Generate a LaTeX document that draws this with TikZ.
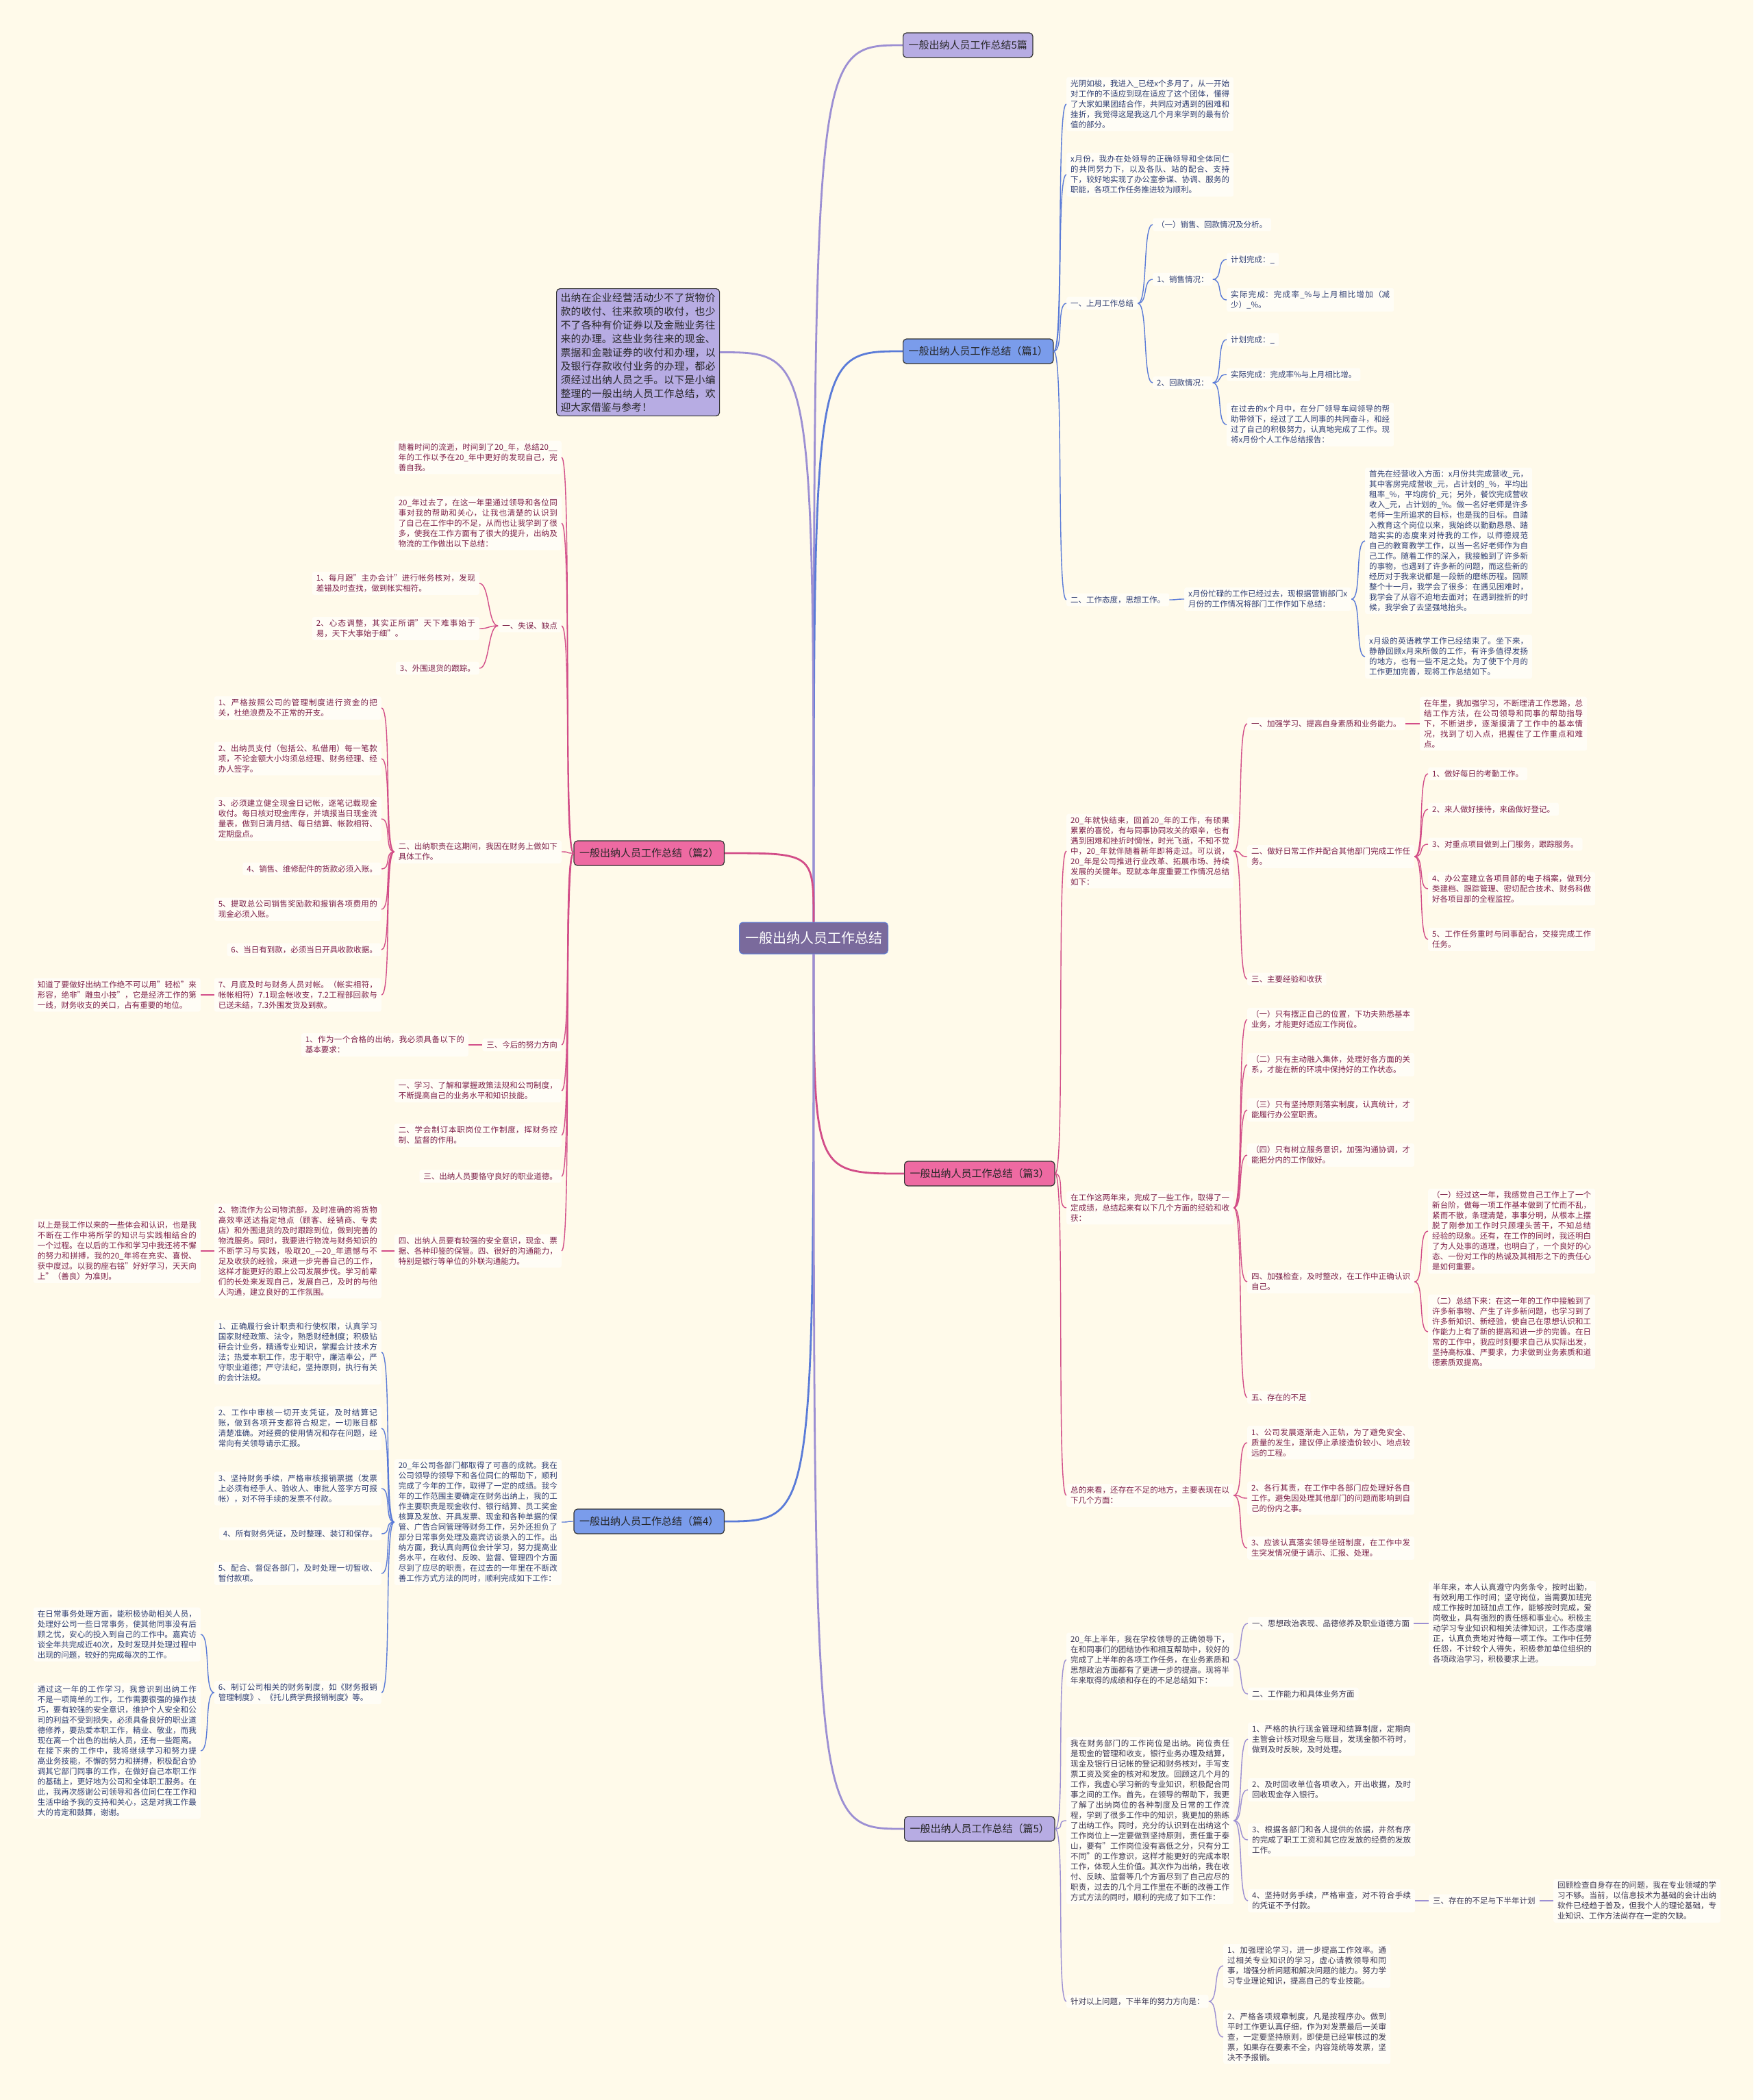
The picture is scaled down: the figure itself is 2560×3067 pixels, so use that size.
\documentclass[tikz,border=0pt]{standalone}
\usepackage{fontspec}
\setmainfont{Noto Sans CJK SC}
\XeTeXlinebreaklocale "zh"
\XeTeXlinebreakskip=0pt plus 1pt
\setlength{\parindent}{0pt}
\definecolor{bgc}{HTML}{FFFAEA}
\definecolor{lfc}{HTML}{FFFDF6}
\definecolor{lnb}{HTML}{5A7BD8}
\definecolor{lnp}{HTML}{D24D88}
\definecolor{lnv}{HTML}{9C8FD3}
\definecolor{txb}{HTML}{2F3E72}
\definecolor{txp}{HTML}{7D1F48}
\definecolor{txv}{HTML}{3A3550}
\definecolor{fb}{HTML}{7A9CEB}
\definecolor{fp}{HTML}{EE6AA2}
\definecolor{fv}{HTML}{B7ACE3}
\definecolor{fr}{HTML}{7A6A9C}
\tikzset{
  lf/.style  = {fill=lfc, rounded corners=3pt, inner xsep=6pt, inner ysep=4pt,
                align=left, font=\fontsize{11.5}{15}\selectfont},
  lfw/.style = {lf, text width=232pt, align=justify},
  tb/.style  = {text=txb}, tp/.style = {text=txp}, tv/.style = {text=txv},
  br/.style  = {draw=black!80, line width=1.2pt, rounded corners=5pt, inner xsep=8pt,
                minimum height=36pt, font=\fontsize{15}{18}\selectfont, text=black!85},
  brb/.style = {br, fill=fb}, brp/.style = {br, fill=fp}, brv/.style = {br, fill=fv},
  rt/.style  = {fill=fr, draw=lnb, line width=1pt, rounded corners=5pt, minimum width=217pt,
                minimum height=46pt, font=\fontsize{20}{24}\selectfont, text=white},
  am/.style  = {line width=2.8pt},
  ab/.style  = {draw=lnb, line width=1.4pt}, ap/.style = {draw=lnp, line width=1.4pt},
  av/.style  = {draw=lnv, line width=1.4pt},
  rc/.style  = {out=0, in=180, distance=15pt},
  lc/.style  = {out=180, in=0, distance=15pt},
}
\begin{document}
\begin{tikzpicture}[x=1pt,y=-1pt]
  \fill[bgc] (0,0) rectangle (2560,3067);
  \useasboundingbox (0,0) rectangle (2560,3067);
  % root and main branches
  \node[rt] (root) at (1188,1370) {一般出纳人员工作总结};
  \node[brv, anchor=west, minimum width=187pt] (ttl) at (1318,66) {一般出纳人员工作总结5篇};
  \node[brb, anchor=west, minimum width=218pt] (p1) at (1318,513) {一般出纳人员工作总结（篇1）};
  \node[brp, anchor=east, minimum width=216pt] (p2) at (1058,1246) {一般出纳人员工作总结（篇2）};
  \node[brp, anchor=west, minimum width=215pt] (p3) at (1320,1714) {一般出纳人员工作总结（篇3）};
  \node[brb, anchor=east, minimum width=216pt] (p4) at (1058,2222) {一般出纳人员工作总结（篇4）};
  \node[brv, anchor=west, minimum width=215pt] (p5) at (1320,2671) {一般出纳人员工作总结（篇5）};
  \node[draw=black!80, line width=1.2pt, fill=fv, rounded corners=5pt, anchor=north west,
        text width=226pt, inner sep=6pt, align=justify, text=black!85,
        font=\fontsize{14.8}{20}\selectfont] (intro) at (812,421)
    {出纳在企业经营活动少不了货物价款的收付、往来款项的收付，也少不了各种有价证券以及金融业务往来的办理。这些业务往来的现金、票据和金融证券的收付和办理，以及银行存款收付业务的办理，都必须经过出纳人员之手。以下是小编整理的一般出纳人员工作总结，欢迎大家借鉴与参考！};

  \draw[am, lnv] (root.north) .. controls (root.north |- ttl.west) .. (ttl.west);
  \draw[am, lnb] (root.north) .. controls (root.north |- p1.west) .. (p1.west);
  \draw[am, lnv] (intro.east) .. controls (root.north |- intro.east) .. (root.north);
  \draw[am, lnp] (p2.east) .. controls (root.north |- p2.east) .. (root.north);
  \draw[am, lnp] (root.south) .. controls (root.south |- p3.west) .. (p3.west);
  \draw[am, lnb] (p4.east) .. controls (root.south |- p4.east) .. (root.south);
  \draw[am, lnv] (root.south) .. controls (root.south |- p5.west) .. (p5.west);

  % part 1
  \node[lfw, tb, anchor=west] (p1a) at (1557,152) {光阴如梭，我进入\_已经x个多月了，从一开始对工作的不适应到现在适应了这个团体，懂得了大家如果团结合作，共同应对遇到的困难和挫折，我觉得这是我这几个月来学到的最有价值的部分。};
  \node[lfw, tb, anchor=west] (p1b) at (1557,255) {x月份，我办在处领导的正确领导和全体同仁的共同努力下，以及各队、站的配合、支持下，较好地实现了办公室参谋、协调、服务的职能，各项工作任务推进较为顺利。};
  \node[lf, tb, anchor=west] (p1c) at (1557,443) {一、上月工作总结};
  \node[lf, tb, anchor=west] (p1c1) at (1683,328) {（一）销售、回款情况及分析。};
  \node[lf, tb, anchor=west] (p1c2) at (1683,408) {1、销售情况：};
  \node[lf, tb, anchor=west] (p1c2a) at (1791,379) {计划完成：\_};
  \node[lfw, tb, anchor=west] (p1c2b) at (1791,438) {实际完成：完成率\_\%与上月相比增加（减少）\_\%。};
  \node[lf, tb, anchor=west] (p1c3) at (1683,559) {2、回款情况：};
  \node[lf, tb, anchor=west] (p1c3a) at (1791,496) {计划完成：\_};
  \node[lf, tb, anchor=west] (p1c3b) at (1791,547) {实际完成：完成率\%与上月相比增。};
  \node[lfw, tb, anchor=west] (p1c3c) at (1791,620) {在过去的x个月中，在分厂领导车间领导的帮助带领下，经过了工人同事的共同奋斗，和经过了自己的积极努力，认真地完成了工作。现将x月份个人工作总结报告：};
  \node[lf, tb, anchor=west] (p1d) at (1557,876) {二、工作态度，思想工作。};
  \node[lfw, tb, anchor=west] (p1d1) at (1729,875) {x月份忙碌的工作已经过去，现根据营销部门x月份的工作情况将部门工作作如下总结：};
  \node[lfw, tb, anchor=west] (p1d1a) at (1993,790) {首先在经营收入方面：x月份共完成营收\_元，其中客房完成营收\_元，占计划的\_\%，平均出租率\_\%，平均房价\_元；另外，餐饮完成营收收入\_元，占计划的\_\%。做一名好老师是许多老师一生所追求的目标，也是我的目标。自踏入教育这个岗位以来，我始终以勤勤恳恳、踏踏实实的态度来对待我的工作，以师德规范自己的教育教学工作，以当一名好老师作为自己工作。随着工作的深入，我接触到了许多新的事物，也遇到了许多新的问题，而这些新的经历对于我来说都是一段新的磨练历程。回顾整个十一月，我学会了很多：在遇见困难时，我学会了从容不迫地去面对；在遇到挫折的时候，我学会了去坚强地抬头。};
  \node[lfw, tb, anchor=west] (p1d1b) at (1993,959) {x月级的英语教学工作已经结束了。坐下来，静静回顾x月来所做的工作，有许多值得发扬的地方，也有一些不足之处。为了使下个月的工作更加完善，现将工作总结如下。};
  \foreach \c in {p1a,p1b,p1c,p1d} \draw[ab] (p1.east) to[rc] (\c.west);
  \foreach \c in {p1c1,p1c2,p1c3} \draw[ab] (p1c.east) to[rc] (\c.west);
  \foreach \c in {p1c2a,p1c2b} \draw[ab] (p1c2.east) to[rc] (\c.west);
  \foreach \c in {p1c3a,p1c3b,p1c3c} \draw[ab] (p1c3.east) to[rc] (\c.west);
  \draw[ab] (p1d.east) to[rc] (p1d1.west);
  \foreach \c in {p1d1a,p1d1b} \draw[ab] (p1d1.east) to[rc] (\c.west);

  % part 3
  \node[lfw, tp, anchor=west] (p3a) at (1557,1243) {20\_年就快结束，回首20\_年的工作，有硕果累累的喜悦，有与同事协同攻关的艰辛，也有遇到困难和挫折时惆怅，时光飞逝，不知不觉中，20\_年就伴随着新年即将走过。可以说，20\_年是公司推进行业改革、拓展市场、持续发展的关键年。现就本年度重要工作情况总结如下：};
  \node[lf, tp, anchor=west] (p3a1) at (1821,1057) {一、加强学习、提高自身素质和业务能力。};
  \node[lfw, tp, anchor=west] (p3a1a) at (2073,1057) {在年里，我加强学习，不断理清工作思路，总结工作方法，在公司领导和同事的帮助指导下，不断进步，逐渐摸清了工作中的基本情况，找到了切入点，把握住了工作重点和难点。};
  \node[lfw, tp, anchor=west] (p3a2) at (1821,1251) {二、做好日常工作并配合其他部门完成工作任务。};
  \node[lf, tp, anchor=west] (p3a2a) at (2085,1130) {1、做好每日的考勤工作。};
  \node[lf, tp, anchor=west] (p3a2b) at (2085,1182) {2、来人做好接待，来函做好登记。};
  \node[lf, tp, anchor=west] (p3a2c) at (2085,1233) {3、对重点项目做到上门服务，跟踪服务。};
  \node[lfw, tp, anchor=west] (p3a2d) at (2085,1298) {4、办公室建立各项目部的电子档案，做到分类建档、跟踪管理、密切配合技术、财务科做好各项目部的全程监控。};
  \node[lfw, tp, anchor=west] (p3a2e) at (2085,1372) {5、工作任务重时与同事配合，交接完成工作任务。};
  \node[lf, tp, anchor=west] (p3a3) at (1821,1430) {三、主要经验和收获};
  \node[lfw, tp, anchor=west] (p3b) at (1557,1764) {在工作这两年来，完成了一些工作，取得了一定成绩，总结起来有以下几个方面的经验和收获：};
  \node[lfw, tp, anchor=west] (p3b1) at (1821,1489) {（一）只有摆正自己的位置，下功夫熟悉基本业务，才能更好适应工作岗位。};
  \node[lfw, tp, anchor=west] (p3b2) at (1821,1555) {（二）只有主动融入集体，处理好各方面的关系，才能在新的环境中保持好的工作状态。};
  \node[lfw, tp, anchor=west] (p3b3) at (1821,1621) {（三）只有坚持原则落实制度，认真统计，才能履行办公室职责。};
  \node[lfw, tp, anchor=west] (p3b4) at (1821,1687) {（四）只有树立服务意识，加强沟通协调，才能把分内的工作做好。};
  \node[lfw, tp, anchor=west] (p3b5) at (1821,1872) {四、加强检查，及时整改，在工作中正确认识自己。};
  \node[lfw, tp, anchor=west] (p3b5a) at (2085,1798) {（一）经过这一年，我感觉自己工作上了一个新台阶，做每一项工作基本做到了忙而不乱，紧而不散，条理清楚，事事分明，从根本上摆脱了刚参加工作时只顾埋头苦干，不知总结经验的现象。还有，在工作的同时，我还明白了为人处事的道理，也明白了，一个良好的心态、一份对工作的热诚及其相形之下的责任心是如何重要。};
  \node[lfw, tp, anchor=west] (p3b5b) at (2085,1945) {（二）总结下来：在这一年的工作中接触到了许多新事物、产生了许多新问题，也学习到了许多新知识、新经验，使自己在思想认识和工作能力上有了新的提高和进一步的完善。在日常的工作中，我应时刻要求自己从实际出发，坚持高标准、严要求，力求做到业务素质和道德素质双提高。};
  \node[lf, tp, anchor=west] (p3b6) at (1821,2041) {五、存在的不足};
  \node[lfw, tp, anchor=west] (p3c) at (1557,2184) {总的来看，还存在不足的地方，主要表现在以下几个方面：};
  \node[lfw, tp, anchor=west] (p3c1) at (1821,2107) {1、公司发展逐渐走入正轨，为了避免安全、质量的发生，建议停止承接造价较小、地点较远的工程。};
  \node[lfw, tp, anchor=west] (p3c2) at (1821,2188) {2、各行其责，在工作中各部门应处理好各自工作。避免因处理其他部门的问题而影响到自己的份内之事。};
  \node[lfw, tp, anchor=west] (p3c3) at (1821,2261) {3、应该认真落实领导坐班制度，在工作中发生突发情况便于请示、汇报、处理。};
  \foreach \c in {p3a,p3b,p3c} \draw[ap] (p3.east) to[rc] (\c.west);
  \foreach \c in {p3a1,p3a2,p3a3} \draw[ap] (p3a.east) to[rc] (\c.west);
  \draw[ap] (p3a1.east) to[rc] (p3a1a.west);
  \foreach \c in {p3a2a,p3a2b,p3a2c,p3a2d,p3a2e} \draw[ap] (p3a2.east) to[rc] (\c.west);
  \foreach \c in {p3b1,p3b2,p3b3,p3b4,p3b5,p3b6} \draw[ap] (p3b.east) to[rc] (\c.west);
  \foreach \c in {p3b5a,p3b5b} \draw[ap] (p3b5.east) to[rc] (\c.west);
  \foreach \c in {p3c1,p3c2,p3c3} \draw[ap] (p3c.east) to[rc] (\c.west);

  % part 5
  \node[lfw, tv, anchor=west] (p5a) at (1557,2424) {20\_年上半年，我在学校领导的正确领导下，在和同事们的团结协作和相互帮助中，较好的完成了上半年的各项工作任务，在业务素质和思想政治方面都有了更进一步的提高。现将半年来取得的成绩和存在的不足总结如下：};
  \node[lf, tv, anchor=west] (p5a1) at (1822,2371) {一、思想政治表现、品德修养及职业道德方面};
  \node[lfw, tv, anchor=west] (p5a1a) at (2086,2371) {半年来，本人认真遵守内务条令，按时出勤，有效利用工作时间；坚守岗位，当需要加班完成工作按时加班加点工作，能够按时完成，爱岗敬业，具有强烈的责任感和事业心。积极主动学习专业知识和相关法律知识，工作态度端正，认真负责地对待每一项工作。工作中任劳任怨，不计较个人得失，积极参加单位组织的各项政治学习，积极要求上进。};
  \node[lf, tv, anchor=west] (p5a2) at (1822,2474) {二、工作能力和具体业务方面};
  \node[lfw, tv, anchor=west] (p5b) at (1557,2659) {我在财务部门的工作岗位是出纳。岗位责任是现金的管理和收支，银行业务办理及结算，现金及银行日记帐的登记和财务核对，手写支票工资及奖金的核对和发放。回顾这几个月的工作，我虚心学习新的专业知识，积极配合同事之间的工作。首先，在领导的帮助下，我更了解了出纳岗位的各种制度及日常的工作流程，学到了很多工作中的知识，我更加的熟练了出纳工作。同时，充分的认识到在出纳这个工作岗位上一定要做到坚持原则，责任重于泰山，要有"工作岗位没有高低之分，只有分工不同"的工作意识，这样才能更好的完成本职工作，体现人生价值。其次作为出纳，我在收付、反映、监督等几个方面尽到了自己应尽的职责，过去的几个月工作里在不断的改善工作方式方法的同时，顺利的完成了如下工作：};
  \node[lfw, tv, anchor=west] (p5b1) at (1822,2540) {1、严格的执行现金管理和结算制度，定期向主管会计核对现金与账目，发现金额不符时，做到及时反映，及时处理。};
  \node[lfw, tv, anchor=west] (p5b2) at (1822,2614) {2、及时回收单位各项收入，开出收据，及时回收现金存入银行。};
  \node[lfw, tv, anchor=west] (p5b3) at (1822,2687) {3、根据各部门和各人提供的依据，井然有序的完成了职工工资和其它应发放的经费的发放工作。};
  \node[lfw, tv, anchor=west] (p5b4) at (1822,2776) {4、坚持财务手续，严格审查，对不符合手续的凭证不予付款。};
  \node[lf, tv, anchor=west] (p5b4a) at (2086,2776) {三、存在的不足与下半年计划};
  \node[lfw, tv, anchor=west] (p5b4a1) at (2268,2776) {回顾检查自身存在的问题，我在专业领域的学习不够。当前，以信息技术为基础的会计出纳软件已经趋于普及，但我个人的理论基础，专业知识、工作方法尚存在一定的欠缺。};
  \node[lf, tv, anchor=west] (p5c) at (1557,2923) {针对以上问题，下半年的努力方向是：};
  \node[lfw, tv, anchor=west] (p5c1) at (1786,2871) {1、加强理论学习，进一步提高工作效率。通过相关专业知识的学习，虚心请教领导和同事，增强分析问题和解决问题的能力。努力学习专业理论知识，提高自己的专业技能。};
  \node[lfw, tv, anchor=west] (p5c2) at (1786,2975) {2、严格各项规章制度，凡是按程序办。做到平时工作更认真仔细，作为对发票最后一关审查，一定要坚持原则，即使是已经审核过的发票，如果存在要素不全，内容笼统等发票，坚决不予报销。};
  \foreach \c in {p5a,p5b,p5c} \draw[av] (p5.east) to[rc] (\c.west);
  \foreach \c in {p5a1,p5a2} \draw[av] (p5a.east) to[rc] (\c.west);
  \draw[av] (p5a1.east) to[rc] (p5a1a.west);
  \foreach \c in {p5b1,p5b2,p5b3,p5b4} \draw[av] (p5b.east) to[rc] (\c.west);
  \draw[av] (p5b4.east) to[rc] (p5b4a.west);
  \draw[av] (p5b4a.east) to[rc] (p5b4a1.west);
  \foreach \c in {p5c1,p5c2} \draw[av] (p5c.east) to[rc] (\c.west);

  % part 2 (left)
  \node[lfw, tp, anchor=east] (p2a) at (820,668) {随着时间的流逝，时间到了20\_年，总结20\_\_年的工作以予在20\_年中更好的发现自己，完善自我。};
  \node[lfw, tp, anchor=east] (p2b) at (820,764) {20\_年过去了，在这一年里通过领导和各位同事对我的帮助和关心，让我也清楚的认识到了自己在工作中的不足，从而也让我学到了很多，使我在工作方面有了很大的提升，出纳及物流的工作做出以下总结：};
  \node[lf, tp, anchor=east] (p2c) at (820,914) {一、失误、缺点};
  \node[lfw, tp, anchor=east] (p2c1) at (700,852) {1、每月跟"主办会计"进行帐务核对，发现差错及时查找，做到帐实相符。};
  \node[lfw, tp, anchor=east] (p2c2) at (700,918) {2、心态调整，其实正所谓"天下难事始于易，天下大事始于细"。};
  \node[lf, tp, anchor=east] (p2c3) at (700,976) {3、外围退货的跟踪。};
  \node[lfw, tp, anchor=east] (p2d) at (820,1244) {二、出纳职责在这期间，我因在财务上做如下具体工作。};
  \node[lfw, tp, anchor=east] (p2d1) at (557,1034) {1、严格按照公司的管理制度进行资金的把关，杜绝浪费及不正常的开支。};
  \node[lfw, tp, anchor=east] (p2d2) at (557,1108) {2、出纳员支付（包括公、私借用）每一笔款项，不论金额大小均须总经理、财务经理、经办人签字。};
  \node[lfw, tp, anchor=east] (p2d3) at (557,1196) {3、必须建立健全现金日记帐，逐笔记载现金收付。每日核对现金库存，并填报当日现金流量表，做到日清月结、每日结算、帐款相符、定期盘点。};
  \node[lf, tp, anchor=east] (p2d4) at (557,1269) {4、销售、维修配件的货款必须入账。};
  \node[lfw, tp, anchor=east] (p2d5) at (557,1328) {5、提取总公司销售奖励款和报销各项费用的现金必须入账。};
  \node[lf, tp, anchor=east] (p2d6) at (557,1387) {6、当日有到款，必须当日开具收款收据。};
  \node[lfw, tp, anchor=east] (p2d7) at (557,1453) {7、月底及时与财务人员对帐。（帐实相符，帐帐相符）7.1现金帐收支，7.2工程部回款与已送未结，7.3外围发货及到款。};
  \node[lfw, tp, anchor=east] (p2d7a) at (293,1453) {知道了要做好出纳工作绝不可以用"轻松"来形容，绝非"雕虫小技"，它是经济工作的第一线，财务收支的关口，占有重要的地位。};
  \node[lf, tp, anchor=east] (p2e) at (820,1526) {三、今后的努力方向};
  \node[lfw, tp, anchor=east] (p2e1) at (684,1526) {1、作为一个合格的出纳，我必须具备以下的基本要求：};
  \node[lfw, tp, anchor=east] (p2f) at (820,1593) {一、学习、了解和掌握政策法规和公司制度，不断提高自己的业务水平和知识技能。};
  \node[lfw, tp, anchor=east] (p2g) at (820,1658) {二、学会制订本职岗位工作制度，挥财务控制、监督的作用。};
  \node[lf, tp, anchor=east] (p2h) at (820,1718) {三、出纳人员要恪守良好的职业道德。};
  \node[lfw, tp, anchor=east] (p2i) at (820,1827) {四、出纳人员要有较强的安全意识，现金、票据、各种印鉴的保管。四、很好的沟通能力，特别是银行等单位的外联沟通能力。};
  \node[lfw, tp, anchor=east] (p2i1) at (557,1827) {2、物流作为公司物流部，及时准确的将货物高效率送达指定地点（顾客、经销商、专卖店）和外围退货的及时跟踪到位，做到完善的物流服务。同时，我要进行物流与财务知识的不断学习与实践，吸取20\_—20\_年遗憾与不足及收获的经验，来进一步完善自己的工作，这样才能更好的跟上公司发展步伐。学习前辈们的长处来发现自己，发展自己，及时的与他人沟通，建立良好的工作氛围。};
  \node[lfw, tp, anchor=east] (p2i1a) at (293,1827) {以上是我工作以来的一些体会和认识，也是我不断在工作中将所学的知识与实践相结合的一个过程。在以后的工作和学习中我还将不懈的努力和拼搏，我的20\_年将在充实、喜悦、获中度过。以我的座右铭"好好学习，天天向上"（善良）为准则。};
  \foreach \c in {p2a,p2b,p2c,p2d,p2e,p2f,p2g,p2h,p2i} \draw[ap] (p2.west) to[lc] (\c.east);
  \foreach \c in {p2c1,p2c2,p2c3} \draw[ap] (p2c.west) to[lc] (\c.east);
  \foreach \c in {p2d1,p2d2,p2d3,p2d4,p2d5,p2d6,p2d7} \draw[ap] (p2d.west) to[lc] (\c.east);
  \draw[ap] (p2d7.west) to[lc] (p2d7a.east);
  \draw[ap] (p2e.west) to[lc] (p2e1.east);
  \draw[ap] (p2i.west) to[lc] (p2i1.east);
  \draw[ap] (p2i1.west) to[lc] (p2i1a.east);

  % part 4 (left)
  \node[lfw, tb, anchor=east] (p4a) at (820,2223) {20\_年公司各部门都取得了可喜的成就。我在公司领导的领导下和各位同仁的帮助下，顺利完成了今年的工作，取得了一定的成绩。我今年的工作范围主要确定在财务出纳上，我的工作主要职责是现金收付、银行结算、员工奖金核算及发放、开具发票、现金和各种单据的保管、广告合同管理等财务工作，另外还担负了部分日常事务处理及嘉宾访谈录入的工作。出纳方面，我认真向两位会计学习，努力提高业务水平，在收付、反映、监督、管理四个方面尽到了应尽的职责，在过去的一年里在不断改善工作方式方法的同时，顺利完成如下工作：};
  \node[lfw, tb, anchor=east] (p4a1) at (557,1975) {1、正确履行会计职责和行使权限，认真学习国家财经政策、法令，熟悉财经制度；积极钻研会计业务，精通专业知识，掌握会计技术方法；热爱本职工作，忠于职守，廉洁奉公，严守职业道德；严守法纪，坚持原则，执行有关的会计法规。};
  \node[lfw, tb, anchor=east] (p4a2) at (557,2086) {2、工作中审核一切开支凭证，及时结算记账，做到各项开支都符合规定，一切账目都清楚准确。对经费的使用情况和存在问题，经常向有关领导请示汇报。};
  \node[lfw, tb, anchor=east] (p4a3) at (557,2174) {3、坚持财务手续，严格审核报销票据（发票上必须有经手人、验收人、审批人签字方可报帐），对不符手续的发票不付款。};
  \node[lf, tb, anchor=east] (p4a4) at (557,2240) {4、所有财务凭证，及时整理、装订和保存。};
  \node[lfw, tb, anchor=east] (p4a5) at (557,2298) {5、配合、督促各部门，及时处理一切暂收、暂付款项。};
  \node[lfw, tb, anchor=east] (p4a6) at (557,2472) {6、制订公司相关的财务制度，如《财务报销管理制度》、《托儿费学费报销制度》等。};
  \node[lfw, tb, anchor=east] (p4a6a) at (293,2387) {在日常事务处理方面，能积极协助相关人员，处理好公司一些日常事务，使其他同事没有后顾之忧，安心的投入到自己的工作中。嘉宾访谈全年共完成近40次，及时发现并处理过程中出现的问题，较好的完成每次的工作。};
  \node[lfw, tb, anchor=east] (p4a6b) at (293,2557) {通过这一年的工作学习，我意识到出纳工作不是一项简单的工作，工作需要很强的操作技巧，要有较强的安全意识，维护个人安全和公司的利益不受到损失，必须具备良好的职业道德修养，要热爱本职工作，精业、敬业，而我现在离一个出色的出纳人员，还有一些距离。在接下来的工作中，我将继续学习和努力提高业务技能，不懈的努力和拼搏，积极配合协调其它部门同事的工作，在做好自己本职工作的基础上，更好地为公司和全体职工服务。在此，我再次感谢公司领导和各位同仁在工作和生活中给予我的支持和关心，这是对我工作最大的肯定和鼓舞，谢谢。};
  \draw[ab] (p4.west) to[lc] (p4a.east);
  \foreach \c in {p4a1,p4a2,p4a3,p4a4,p4a5,p4a6} \draw[ab] (p4a.west) to[lc] (\c.east);
  \foreach \c in {p4a6a,p4a6b} \draw[ab] (p4a6.west) to[lc] (\c.east);
\end{tikzpicture}
\end{document}
